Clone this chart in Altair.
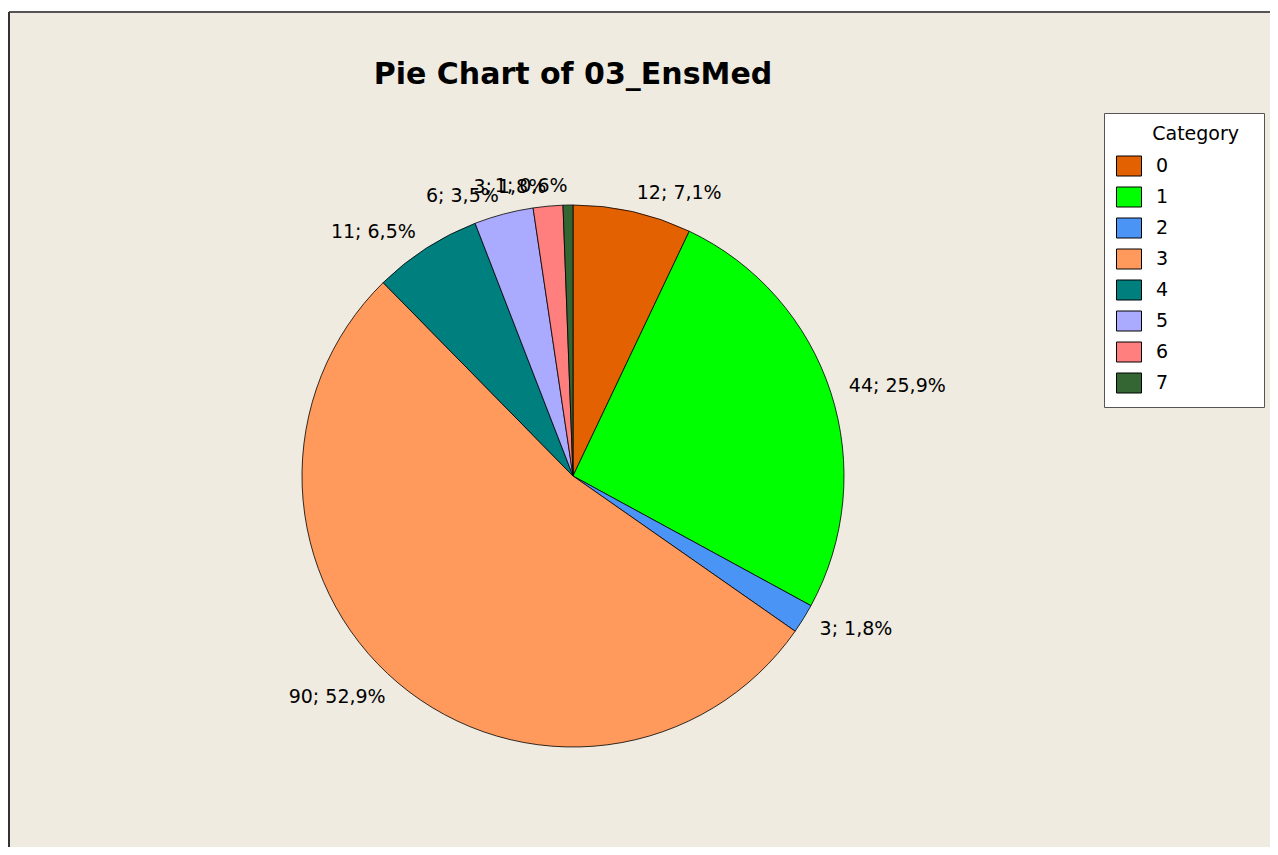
import altair as alt
import pandas as pd

# ---- data ----
categories = ["0", "1", "2", "3", "4", "5", "6", "7"]
counts = [12, 44, 3, 90, 11, 6, 3, 1]
colors = ["#E36100", "#00FF00", "#4A94F5", "#FF9A5C", "#007F7F", "#AAAAFF", "#FF7F7F", "#336633"]
title_text = ["Pie Chart of 03_EnsMed"]
legend_title = "Category"

total = sum(counts)
labels = [f"{c}; {100 * c / total:.1f}%".replace(".", ",") for c in counts]
df = pd.DataFrame({"cat": categories, "count": counts, "idx": list(range(len(counts))), "label": labels})

# ---- layout ----
W, H = 1261, 835
CX, CY = 564, 464
R = 271
RL = 290
FONT = "DejaVu Sans"
BG = "#EFEBE0"
PAD = "\u200b" + "\u00a0" * 6

base = alt.Chart(df).encode(
    theta=alt.Theta("count:Q", stack=True),
    order=alt.Order("idx:Q", sort="ascending"),
)

arcs = base.mark_arc(radius=R, stroke="black", strokeWidth=0.8, opacity=1).encode(
    x=alt.value(CX),
    y=alt.value(CY),
    color=alt.Color(
        "cat:N",
        scale=alt.Scale(domain=categories, range=colors),
        legend=alt.Legend(
            orient="none",
            legendX=1095,
            legendY=101,
            title=PAD + legend_title + "\u00a0\u00a0\u200b",
            titleFont=FONT,
            titleFontSize=19,
            titleFontWeight="normal",
            titleColor="black",
            titlePadding=9,
            labelFont=FONT,
            labelFontSize=19,
            labelColor="black",
            labelOffset=14,
            symbolType="M-1,-0.8H1V0.8H-1Z",
            symbolSize=625,
            symbolStrokeColor="black",
            symbolStrokeWidth=1,
            symbolOpacity=1,
            rowPadding=6,
            padding=12,
            fillColor="white",
            strokeColor="#555555",
            cornerRadius=0,
        ),
    ),
)

lab = base.transform_window(
    cum="sum(count)", sort=[alt.SortField("idx")]
).transform_joinaggregate(tot="sum(count)").transform_calculate(
    right="(datum.cum - datum.count / 2) < datum.tot / 2"
)

right_labels = lab.mark_text(
    radius=RL, align="left", baseline="middle", font=FONT, fontSize=19, color="black"
).encode(
    x=alt.value(CX),
    y=alt.value(CY),
    text=alt.condition("datum.right", alt.Text("label:N"), alt.value("")),
)

left_labels = lab.mark_text(
    radius=RL, align="right", baseline="middle", font=FONT, fontSize=19, color="black"
).encode(
    x=alt.value(CX),
    y=alt.value(CY),
    text=alt.condition("datum.right", alt.value(""), alt.Text("label:N")),
)

title = alt.Chart(pd.DataFrame({"t": title_text})).mark_text(
    font=FONT, fontSize=30, fontWeight="bold", align="center", baseline="middle", color="black"
).encode(text="t:N", x=alt.value(CX), y=alt.value(63))

one = pd.DataFrame({"a": [0]})
frame_top = alt.Chart(one).mark_rule(color="#555555", strokeWidth=2).encode(
    x=alt.value(0), x2=alt.value(W), y=alt.value(0)
)
frame_left = alt.Chart(one).mark_rule(color="#333333", strokeWidth=2).encode(
    x=alt.value(0), y=alt.value(0), y2=alt.value(H)
)

chart = (
    alt.layer(arcs, right_labels, left_labels, title, frame_top, frame_left)
    .properties(
        width=W,
        height=H,
        autosize=alt.AutoSizeParams(type="none"),
        padding={"left": 1, "top": 4, "right": 0, "bottom": 0},
    )
    .configure(background="white")
    .configure_view(fill=BG, stroke="transparent")
)

chart.save("out.html", embed_options={"renderer": "svg", "actions": False})
